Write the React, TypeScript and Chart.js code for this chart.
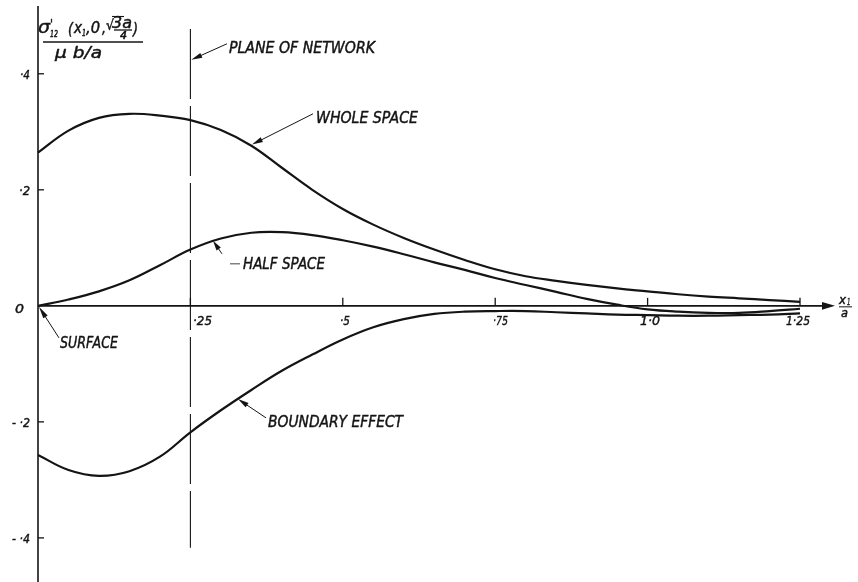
import React, { useEffect, useRef } from "react";
import { Chart, registerables } from "chart.js";

Chart.register(...registerables);

// ---- data (x1/a , sigma'12 / (mu b/a)) ----
const xValues = [0, 0.05, 0.1, 0.15, 0.2, 0.25, 0.3, 0.35, 0.4, 0.45, 0.5, 0.55, 0.6, 0.65, 0.7, 0.75, 0.8, 0.85, 0.9, 0.95, 1.0, 1.05, 1.1, 1.15, 1.2, 1.25];
const wholeY = [0.264, 0.302, 0.324, 0.331, 0.328, 0.32, 0.303, 0.276, 0.238, 0.2, 0.167, 0.14, 0.117, 0.097, 0.079, 0.063, 0.051, 0.043, 0.036, 0.03, 0.025, 0.02, 0.016, 0.013, 0.01, 0.007];
const halfY = [0, 0.011, 0.025, 0.044, 0.07, 0.097, 0.116, 0.126, 0.127, 0.122, 0.113, 0.102, 0.089, 0.075, 0.062, 0.048, 0.036, 0.024, 0.012, 0.002, -0.006, -0.01, -0.012, -0.012, -0.009, -0.005];
const boundY = [-0.257, -0.283, -0.293, -0.285, -0.26, -0.218, -0.18, -0.145, -0.112, -0.084, -0.058, -0.037, -0.023, -0.014, -0.01, -0.009, -0.009, -0.011, -0.013, -0.015, -0.016, -0.017, -0.017, -0.016, -0.015, -0.013];

const curveNames = ["WHOLE SPACE", "HALF SPACE", "BOUNDARY EFFECT"];

const xTickValues = [0.25, 0.5, 0.75, 1.0, 1.25];
const xTickLabels = ["·25", "·5", "·75", "1·0", "1·25"];
const yTickValues = [0.4, 0.2, -0.2, -0.4];
const yTickLabels = ["·4", "·2", "- ·2", "- ·4"];

const planeX = 0.25;
const planeLabel = "PLANE OF NETWORK";
const surfaceLabel = "SURFACE";

const INK = "#141414";
const FONT = '"DejaVu Sans", sans-serif';

function pts(xs: number[], ys: number[]) {
  return xs.map((x, i) => ({ x, y: ys[i] }));
}

function fitText(ctx: CanvasRenderingContext2D, text: string, left: number, baseline: number, width: number, size: number, weight = 0.45) {
  ctx.save();
  ctx.font = `italic ${size}px ${FONT}`;
  ctx.textAlign = "left";
  ctx.textBaseline = "alphabetic";
  const w = ctx.measureText(text).width || 1;
  ctx.translate(left, baseline);
  ctx.scale(width / w, 1);
  ctx.fillText(text, 0, 0);
  if (weight > 0) {
    ctx.lineWidth = weight;
    ctx.lineJoin = "round";
    ctx.strokeText(text, 0, 0);
  }
  ctx.restore();
}

function arrow(ctx: CanvasRenderingContext2D, x0: number, y0: number, x1: number, y1: number, len = 11, half = 2.6, lw = 1) {
  const a = Math.atan2(y1 - y0, x1 - x0);
  ctx.save();
  ctx.lineWidth = lw;
  ctx.beginPath();
  ctx.moveTo(x0, y0);
  ctx.lineTo(x1 - Math.cos(a) * len * 0.6, y1 - Math.sin(a) * len * 0.6);
  ctx.stroke();
  ctx.beginPath();
  ctx.moveTo(x1, y1);
  ctx.lineTo(x1 - Math.cos(a) * len - Math.sin(a) * half, y1 - Math.sin(a) * len + Math.cos(a) * half);
  ctx.lineTo(x1 - Math.cos(a) * len + Math.sin(a) * half, y1 - Math.sin(a) * len - Math.cos(a) * half);
  ctx.closePath();
  ctx.fill();
  ctx.restore();
}

const decorPlugin = {
  id: "decor",
  afterDraw(chart: any) {
    const { ctx, scales } = chart;
    const xs = scales.x;
    const ys = scales.y;
    const px = (v: number) => xs.getPixelForValue(v);
    const py = (v: number) => ys.getPixelForValue(v);
    const P = (a: number, b: number) => [px(a), py(b)];
    ctx.save();
    ctx.strokeStyle = INK;
    ctx.fillStyle = INK;
    ctx.lineCap = "butt";

    const x0 = px(0);
    const y0 = py(0);

    // y axis
    ctx.lineWidth = 1.6;
    ctx.beginPath();
    ctx.moveTo(x0, py(0.517));
    ctx.lineTo(x0, py(-0.476));
    ctx.stroke();

    // x axis with arrow
    const tip = px(1.3074);
    ctx.beginPath();
    ctx.moveTo(x0, y0);
    ctx.lineTo(tip - 8, y0);
    ctx.stroke();
    ctx.beginPath();
    ctx.moveTo(tip, y0);
    ctx.lineTo(tip - 13, y0 - 3.8);
    ctx.lineTo(tip - 13, y0 + 3.8);
    ctx.closePath();
    ctx.fill();

    // x ticks
    ctx.lineWidth = 1.3;
    xTickValues.forEach((v) => {
      ctx.beginPath();
      ctx.moveTo(px(v), y0);
      ctx.lineTo(px(v), y0 - 8);
      ctx.stroke();
    });
    // y ticks
    yTickValues.forEach((v) => {
      ctx.beginPath();
      ctx.moveTo(x0, py(v));
      ctx.lineTo(x0 + 6, py(v));
      ctx.stroke();
    });

    // plane of network (long-dash vertical)
    ctx.save();
    ctx.lineWidth = 1.1;
    ctx.setLineDash([70, 7]);
    ctx.beginPath();
    ctx.moveTo(px(planeX), py(0.477));
    ctx.lineTo(px(planeX), py(-0.417));
    ctx.stroke();
    ctx.restore();

    // tick labels
    const yLabW = [10, 11, 18, 18];
    yTickValues.forEach((v, i) => {
      const w = yLabW[i];
      fitText(ctx, yTickLabels[i], x0 - 8 - w, py(v) + 5.5, w, 13);
    });
    fitText(ctx, "0", x0 - 23, y0 + 7, 9, 13);
    const xLabLeft = [193, 340, 493, 640, 786];
    const xLabW = [19, 10, 15, 20, 24];
    xTickValues.forEach((v, i) => {
      const left = px(v) + (xLabLeft[i] - (38 + v * 609.6));
      fitText(ctx, xTickLabels[i], left, y0 + 19.5, xLabW[i], 13);
    });

    // x-axis label  x1 / a
    const lx = tip + 4;
    fitText(ctx, "x", lx, y0 - 2, 7, 12);
    fitText(ctx, "1", lx + 8, y0 - 1, 3.5, 8, 0.3);
    ctx.lineWidth = 1;
    ctx.beginPath();
    ctx.moveTo(lx, y0 + 1);
    ctx.lineTo(lx + 13, y0 + 1);
    ctx.stroke();
    fitText(ctx, "a", lx + 2, y0 + 11, 7, 12);

    // y-axis title (fraction)
    fitText(ctx, "σ", 38, 33, 12, 18);
    fitText(ctx, "'", 50, 28, 3, 13);
    fitText(ctx, "12", 50, 37, 8, 9, 0.5);
    fitText(ctx, "(", 68, 34, 5, 15);
    fitText(ctx, "x", 74, 33, 8, 15);
    fitText(ctx, "1", 82, 36, 4, 9, 0.5);
    fitText(ctx, ",0", 86, 33, 14, 15);
    fitText(ctx, ",", 102, 33, 4, 15);
    fitText(ctx, "√", 106, 30, 8, 14);
    ctx.lineWidth = 1.1;
    ctx.beginPath();
    ctx.moveTo(112, 16.5);
    ctx.lineTo(124, 16.5);
    ctx.stroke();
    fitText(ctx, "3a", 112, 28, 20, 15);
    ctx.lineWidth = 1.3;
    ctx.beginPath();
    ctx.moveTo(114, 30);
    ctx.lineTo(132, 30);
    ctx.stroke();
    fitText(ctx, "4", 120, 38.5, 7, 11, 0.6);
    fitText(ctx, ")", 133, 34, 5, 15);
    ctx.lineWidth = 1.4;
    ctx.beginPath();
    ctx.moveTo(43, 42);
    ctx.lineTo(143, 42);
    ctx.stroke();
    fitText(ctx, "μ b/a", 55, 58, 47, 15);

    // annotations
    const tx = (a: number, b: number, text: string, w: number) => {
      const [X, Y] = P(a, b);
      fitText(ctx, text, X, Y, w, 15);
    };
    const ar = (a: number, b: number, c: number, d: number, len = 11) => {
      const [X0, Y0] = P(a, b);
      const [X1, Y1] = P(c, d);
      arrow(ctx, X0, Y0, X1, Y1, len);
    };
    ctx.strokeStyle = INK;
    // plane of network
    tx(0.3133, 0.4362, planeLabel, 146);
    ar(0.31, 0.4517, 0.2515, 0.4241);
    // whole space
    tx(0.456, 0.3155, curveNames[0], 102);
    ar(0.4511, 0.331, 0.351, 0.2779);
    // half space
    tx(0.3363, 0.0638, curveNames[1], 82);
    ctx.lineWidth = 0.8;
    ctx.beginPath();
    const [d0x, d0y] = P(0.315, 0.0724);
    const [d1x] = P(0.3314, 0.0724);
    ctx.moveTo(d0x, d0y);
    ctx.lineTo(d1x, d0y);
    ctx.stroke();
    ar(0.3018, 0.0897, 0.2871, 0.1121, 10);
    // surface
    tx(0.0361, -0.0724, surfaceLabel, 58);
    ar(0.0344, -0.0552, 0.0016, -0.0017, 12);
    // boundary effect
    tx(0.3773, -0.2086, curveNames[2], 135);
    ar(0.374, -0.1931, 0.328, -0.1606);

    ctx.restore();
  },
};

export default function App() {
  const ref = useRef<HTMLCanvasElement | null>(null);
  useEffect(() => {
    if (!ref.current) return;
    const ds = (label: string, ys: number[]) => ({
      label,
      data: pts(xValues, ys),
      borderColor: INK,
      backgroundColor: INK,
      borderWidth: 2.2,
      pointRadius: 0,
      showLine: true,
      fill: false,
      tension: 0.4,
      clip: false as any,
    });
    const chart = new Chart(ref.current, {
      type: "scatter",
      data: {
        datasets: [ds(curveNames[0], wholeY), ds(curveNames[1], halfY), ds(curveNames[2], boundY)],
      },
      options: {
        animation: false,
        responsive: false,
        devicePixelRatio: 1,
        layout: { padding: { left: 38, right: 58, top: 3, bottom: 0 } },
        plugins: { legend: { display: false }, tooltip: { enabled: false } },
        events: [],
        scales: {
          x: { type: "linear", min: 0, max: 1.25, display: false },
          y: { type: "linear", min: -0.476, max: 0.522, display: false },
        },
      },
      plugins: [decorPlugin],
    });
    return () => chart.destroy();
  }, []);
  return (
    <div style={{ position: "absolute", left: 0, top: 0, width: 858, height: 582, background: "#fff" }}>
      <canvas ref={ref} width={858} height={582} style={{ display: "block" }} />
    </div>
  );
}
